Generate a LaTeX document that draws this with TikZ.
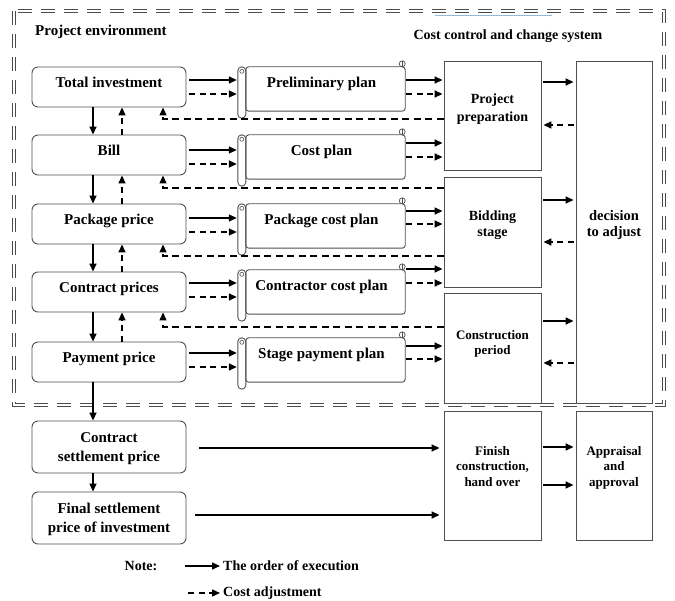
\documentclass[tikz,border=0pt]{standalone}
\usepackage{fontspec}
\setmainfont{Liberation Serif}
\usetikzlibrary{arrows.meta,calc}
\definecolor{boxc}{RGB}{80,80,80}
\definecolor{brd}{RGB}{75,75,75}
\definecolor{blu}{RGB}{150,185,215}
\newcommand\fz[2]{\fontsize{#1}{#2}\selectfont\bfseries}
\begin{document}
\begin{tikzpicture}[x=1pt,y=-1pt,
 box/.style={draw=boxc,line width=0.9pt,rounded corners=6pt,minimum width=154pt,minimum height=40pt,inner sep=0pt,align=center,font=\fz{15}{20},text height=10pt,text depth=8pt},
 scr/.style={minimum width=167pt,minimum height=44pt,inner sep=0pt,font=\fz{15}{18},text height=10pt,text depth=12pt},
 rbox/.style={draw=boxc,line width=0.9pt,inner sep=0pt,align=center},
 arr/.style={line width=1.5pt,-{Triangle[length=8pt,width=7pt]}},
 darr/.style={arr,dash pattern=on 6pt off 4.5pt},
 fb/.style={line width=1.3pt,dash pattern=on 7pt off 4.5pt,-{Triangle[length=8pt,width=7pt]}},
 scrl/.style={draw=boxc,line width=0.9pt},
 lbl/.style={inner sep=0pt}
 ]
\useasboundingbox (0,0) rectangle (675,601);
% outer border
\draw[draw=brd,double=white,double distance=1.5pt,line width=1.7pt,dash pattern=on 14pt off 9pt] (14,11) rectangle (664,405);
\draw[blu,line width=0.9pt] (435,15) -- (552,15);
% titles
\node[lbl,anchor=west,font=\fz{15}{18}] (pe) at (35,32) {Project environment};
\node[lbl,font=\fz{14}{17}] (cc) at (508,36) {Cost control and change system};
% left boxes
\node[box] (ti) at (109,87) {Total investment};
\node[box] (bill) at (109,155) {Bill};
\node[box] (pkg) at (109,224) {Package price};
\node[box] (con) at (109,292) {Contract prices};
\node[box] (pay) at (109,362) {Payment price};
\node[box,minimum height=52pt,text height=30pt,text depth=0pt] (cs) at (109,447) {Contract\\settlement price};
\node[box,minimum height=52pt,font=\fz{15}{19},text height=29pt,text depth=1pt] (fs) at (109,518) {Final settlement\\price of investment};
% scrolls
\node[scr] (s1) at (321.5,89) {Preliminary plan};
\node[scr] (s2) at (321.5,157) {Cost plan};
\node[scr] (s3) at (321.5,226) {Package cost plan};
\node[scr] (s4) at (321.5,292) {Contractor cost plan};
\node[scr] (s5) at (321.5,360) {Stage payment plan};
\foreach \s in {s1,s2,s3,s4,s5}{
 \draw[scrl,rounded corners=3pt] ($(\s.north west)+(8,0)$) rectangle (\s.south east);
 \draw[scrl,rounded corners=4pt] (\s.north west) rectangle ($(\s.south west)+(8,7)$);
 \draw[boxc,line width=0.6pt] ($(\s.north west)+(4,4.5)$) circle (2pt);
 \draw[boxc,line width=0.7pt] ($(\s.north east)+(-3,-3)$) circle (3pt);
 \draw[boxc,line width=0.7pt] ($(\s.north east)+(-3,-6)$) -- ($(\s.north east)+(-3,0)$);
}
% right boxes
\node[rbox,minimum width=97pt,minimum height=109pt,font=\fz{14}{18},text height=27.3pt,text depth=15pt] (pp) at (492.5,115.5) {Project\\preparation};
\node[rbox,minimum width=97pt,minimum height=110pt,font=\fz{14}{16},text height=25.3pt,text depth=16pt] (bid) at (492.5,232) {Bidding\\stage};
\node[rbox,minimum width=97pt,minimum height=110pt,font=\fz{13}{15},text height=23.6pt,text depth=11pt] (cp) at (492.5,348) {Construction\\period};
\node[rbox,minimum width=76pt,minimum height=342pt,font=\fz{14.5}{16},text height=25.6pt,text depth=16pt] (dec) at (614,232) {decision\\to adjust};
\node[rbox,minimum width=97pt,minimum height=129pt,font=\fz{13}{15.5},text height=39.6pt,text depth=18pt] (fin) at (492.5,475.5) {Finish\\construction,\\hand over};
\node[rbox,minimum width=76pt,minimum height=129pt,font=\fz{13}{15.5},text height=39.6pt,text depth=18pt] (app) at (614,475.5) {Appraisal\\and\\approval};
% left -> scroll
\foreach \b/\s/\ya/\yb in {ti/s1/80/94,bill/s2/150/164,pkg/s3/218/232,con/s4/283/297,pay/s5/353/367}{
 \draw[arr] ($(\b.east|-0,\ya)+(3,0)$) -- ($(\s.west|-0,\ya)+(-1,0)$);
 \draw[darr] ($(\b.east|-0,\yb)+(3,0)$) -- ($(\s.west|-0,\yb)+(-1,0)$);
}
% scroll -> right boxes
\foreach \s/\r/\ya/\yb in {s1/pp/80/94,s2/pp/143/157,s3/bid/211/224,s4/bid/269/283,s5/cp/346/359}{
 \draw[arr] ($(\s.east|-0,\ya)+(1,0)$) -- ($(\r.west|-0,\ya)+(-1,0)$);
 \draw[darr] ($(\s.east|-0,\yb)+(1,0)$) -- ($(\r.west|-0,\yb)+(-1,0)$);
}
% right boxes <-> decision
\foreach \r/\ya/\yb in {pp/82/125,bid/200/242,cp/321/363}{
 \draw[arr] ($(\r.east|-0,\ya)+(2,0)$) -- ($(dec.west|-0,\ya)+(-2,0)$);
 \draw[darr] ($(dec.west|-0,\yb)+(-2,0)$) -- ($(\r.east|-0,\yb)+(2,0)$);
}
% feedback dashed lines
\foreach \r/\b/\y in {pp/ti/119,bid/bill/188,bid/pkg/256,cp/con/327}{
 \draw[fb] (\r.west|-0,\y) -| ($(\b.south)+(54,0)$);
}
% vertical arrows in left column
\foreach \a/\b in {ti/bill,bill/pkg,pkg/con,con/pay}{
 \draw[arr] ($(\a.south)+(-16,0)$) -- ($(\b.north)+(-16,0)$);
 \draw[darr] ($(\b.north)+(13,0)$) -- ($(\a.south)+(13,0)$);
}
\draw[arr] ($(pay.south)+(-16,0)$) -- ($(cs.north)+(-16,0)$);
\draw[arr] ($(cs.south)+(-16,0)$) -- ($(fs.north)+(-16,0)$);
% bottom arrows
\draw[arr] ($(cs.east|-0,448)+(13,0)$) -- ($(fin.west|-0,448)+(-4,0)$);
\draw[arr] ($(fs.east|-0,515)+(9,0)$) -- ($(fin.west|-0,515)+(-4,0)$);
\draw[arr] ($(fin.east|-0,447)+(2,0)$) -- ($(app.west|-0,447)+(-2,0)$);
\draw[arr] ($(fin.east|-0,485)+(2,0)$) -- ($(app.west|-0,485)+(-2,0)$);
% legend
\node[lbl,font=\fz{14}{17}] (note) at (141,566) {Note:};
\node[lbl,anchor=west,font=\fz{14}{17}] (t1) at (223,566) {The order of execution};
\node[lbl,anchor=west,font=\fz{14}{17}] (t2) at (223,593) {Cost adjustment};
\draw[arr] ($(t1.west)+(-38,0)$) -- ($(t1.west)+(-3,0)$);
\draw[darr] ($(t2.west)+(-35,0)$) -- ($(t2.west)+(-3,0)$);
\end{tikzpicture}
\end{document}
